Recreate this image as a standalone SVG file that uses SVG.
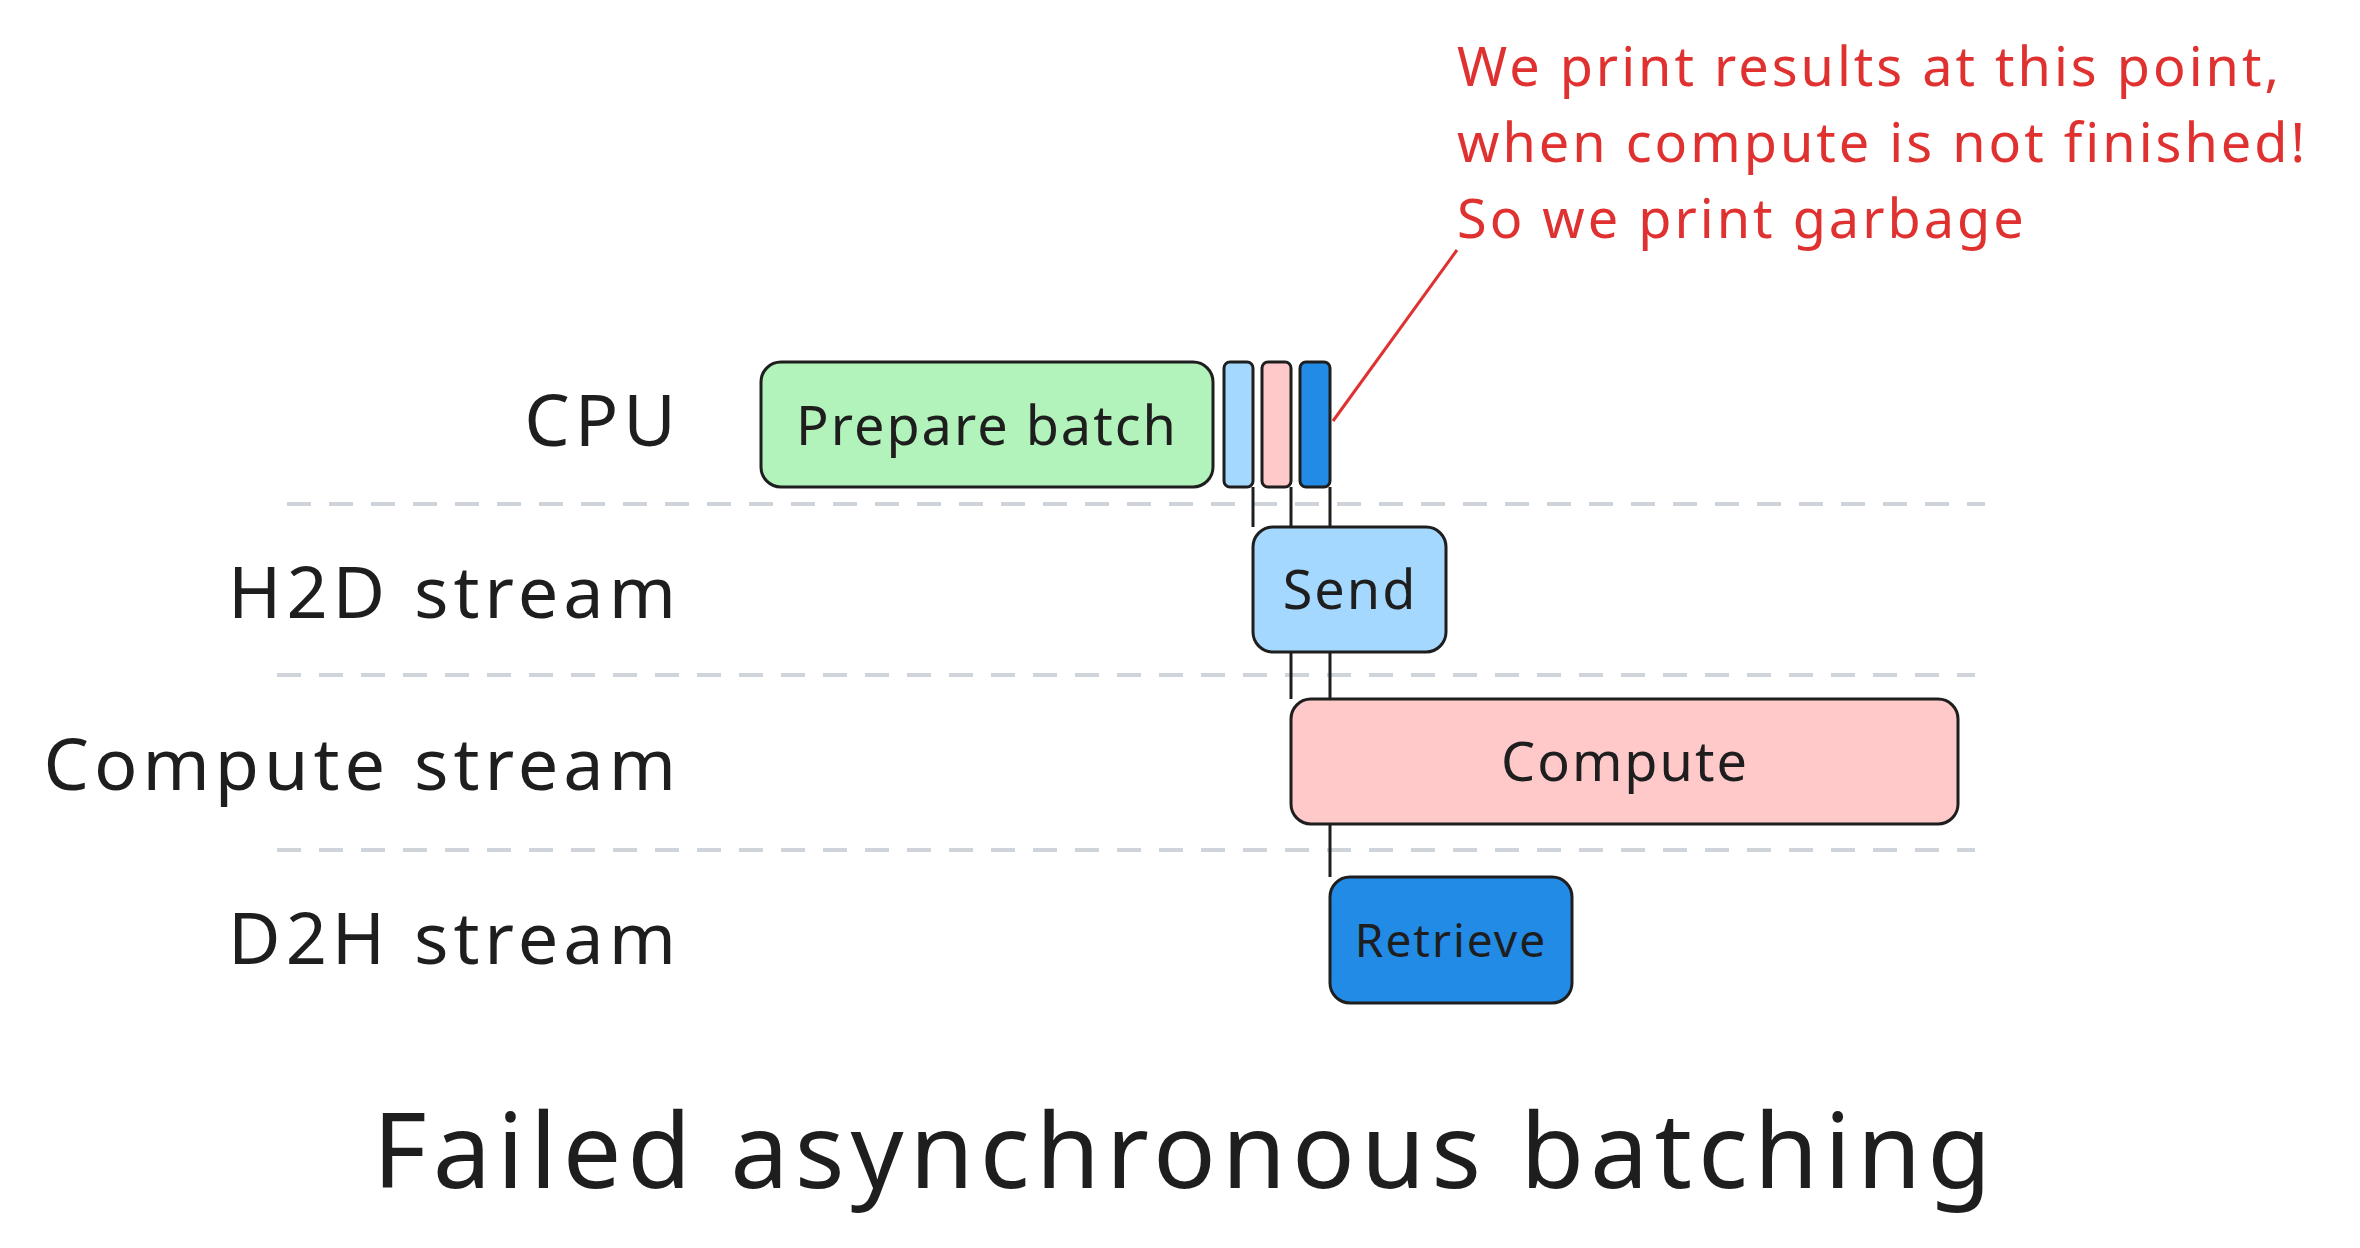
<svg xmlns="http://www.w3.org/2000/svg" width="2360" height="1248" viewBox="0 0 2360 1248">
<style>
.lbl{font-family:"Noto Sans",sans-serif;font-size:72px;fill:#1e1e1e;text-anchor:end;letter-spacing:5px}
.box{stroke:#1e1e1e;stroke-width:3}
.bt{font-family:"Noto Sans",sans-serif;font-size:54px;fill:#1e1e1e;text-anchor:middle;dominant-baseline:central;letter-spacing:2px}
.dash{stroke:#ced4da;stroke-width:4;stroke-dasharray:24 18}
.red{font-family:"Noto Sans",sans-serif;font-size:54px;fill:#e03131;letter-spacing:3px}
</style>
<rect width="2360" height="1248" fill="#fff"/>
<g id="lanes">
<line class="dash" x1="287" y1="504" x2="1985" y2="504"/>
<line class="dash" x1="277" y1="675" x2="1975" y2="675"/>
<line class="dash" x1="277" y1="850" x2="1975" y2="850"/>
<text class="lbl" x="681" y="446">CPU</text>
<text class="lbl" x="681" y="618">H2D stream</text>
<text class="lbl" x="681" y="790">Compute stream</text>
<text class="lbl" x="681" y="964">D2H stream</text>
</g>
<g id="connectors" stroke="#1e1e1e" stroke-width="3">
<line x1="1253" y1="487" x2="1253" y2="527"/>
<line x1="1291" y1="487" x2="1291" y2="699"/>
<line x1="1330" y1="487" x2="1330" y2="877"/>
<line x1="1333" y1="421" x2="1457" y2="250" stroke="#e03131"/>
</g>
<g id="prepare"><rect class="box" x="761" y="362" width="452" height="125" rx="20" fill="#b2f2bb"/><text class="bt" x="987" y="424">Prepare batch</text></g>
<g id="cpu-send"><rect class="box" x="1224" y="362" width="29" height="125" rx="6" fill="#a5d8ff"/></g>
<g id="cpu-compute"><rect class="box" x="1262" y="362" width="29" height="125" rx="6" fill="#ffc9c9"/></g>
<g id="cpu-retrieve"><rect class="box" x="1300" y="362" width="30" height="125" rx="6" fill="#228be6"/></g>
<g id="send"><rect class="box" x="1253" y="527" width="193" height="125" rx="20" fill="#a5d8ff"/><text class="bt" x="1350" y="588">Send</text></g>
<g id="compute"><rect class="box" x="1291" y="699" width="667" height="125" rx="20" fill="#ffc9c9"/><text class="bt" x="1625" y="760">Compute</text></g>
<g id="retrieve"><rect class="box" x="1330" y="877" width="242" height="126" rx="20" fill="#228be6"/><text class="bt" x="1451" y="939" style="font-size:46px">Retrieve</text></g>
<g id="note">
<text class="red" x="1457" y="86">We print results at this point,</text>
<text class="red" x="1457" y="162">when compute is not finished!</text>
<text class="red" x="1457" y="238">So we print garbage</text>
</g>
<text x="1185" y="1188" style="font-family:'Noto Sans',sans-serif;font-size:104px;fill:#1e1e1e;text-anchor:middle;letter-spacing:6px">Failed asynchronous batching</text>
</svg>
